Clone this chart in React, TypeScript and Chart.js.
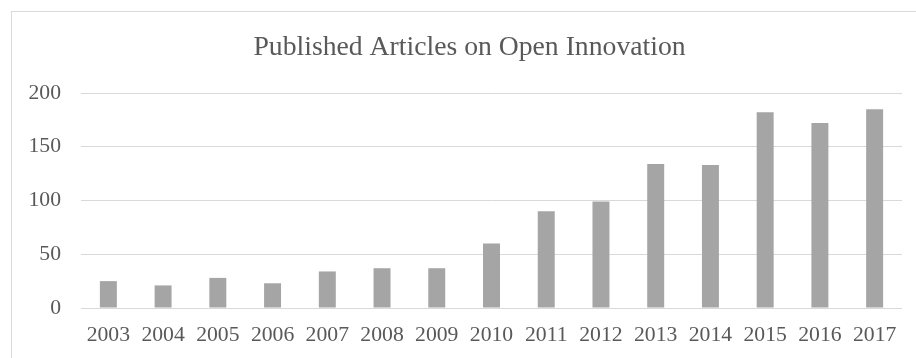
import React, { useEffect, useRef } from "react";
import { Chart, registerables } from "chart.js";

Chart.register(...registerables);

const years: string[] = ["2003", "2004", "2005", "2006", "2007", "2008", "2009", "2010", "2011", "2012", "2013", "2014", "2015", "2016", "2017"];
const articles: number[] = [25, 21, 28, 23, 34, 37, 37, 60, 90, 99, 134, 133, 182, 172, 185];
const titleText = "Published Articles on Open Innovation";
const yTicks: number[] = [0, 50, 100, 150, 200];

const FONT = '"Liberation Serif", "Times New Roman", serif';
const TEXT = "#595959";
const GRID = "#D9D9D9";

const framePlugin = {
  id: "frame",
  beforeDraw(chart: any) {
    const ctx = chart.ctx;
    ctx.save();
    ctx.fillStyle = "#ffffff";
    ctx.fillRect(0, 0, chart.width, chart.height);
    ctx.strokeStyle = GRID;
    ctx.lineWidth = 1;
    ctx.strokeRect(11.5, 11.5, chart.width + 50, chart.height + 50);
    ctx.fillStyle = TEXT;
    ctx.font = `27.7px ${FONT}`;
    ctx.textAlign = "center";
    ctx.textBaseline = "alphabetic";
    ctx.fillText(titleText, 469.5, 55);
    ctx.restore();
  },
};

export default function App() {
  const ref = useRef<HTMLCanvasElement | null>(null);
  useEffect(() => {
    document.body.style.margin = "0";
    const canvas = ref.current;
    if (!canvas) return;
    const chart = new Chart(canvas, {
      type: "bar",
      data: {
        labels: years,
        datasets: [
          {
            label: "Articles",
            data: articles,
            backgroundColor: "#A5A5A5",
            borderWidth: 0,
            categoryPercentage: 1,
            barPercentage: 0.31,
          },
        ],
      },
      options: {
        animation: false,
        responsive: false,
        maintainAspectRatio: false,
        layout: { padding: { top: 93, left: 0, right: 14, bottom: 0 } },
        plugins: {
          legend: { display: false },
          title: { display: false },
          tooltip: { enabled: false },
        },
        scales: {
          x: {
            grid: { display: false, drawTicks: false },
            border: { display: false },
            ticks: {
              color: TEXT,
              font: { family: FONT, size: 21.7 },
              padding: 14,
              maxRotation: 0,
              autoSkip: false,
            },
            afterFit(scale: any) {
              scale.height = 50;
            },
          },
          y: {
            min: 0,
            max: 200,
            afterBuildTicks(scale: any) {
              scale.ticks = yTicks.map((v) => ({ value: v }));
            },
            grid: { color: GRID, drawTicks: false, lineWidth: 1 },
            border: { display: false },
            ticks: {
              color: TEXT,
              font: { family: FONT, size: 21.7 },
              padding: 20,
            },
            afterFit(scale: any) {
              scale.width = 81;
            },
          },
        },
      },
      plugins: [framePlugin],
    });
    return () => chart.destroy();
  }, []);
  return (
    <div style={{ width: 916, height: 358 }}>
      <canvas ref={ref} width={916} height={358} style={{ display: "block" }} />
    </div>
  );
}
